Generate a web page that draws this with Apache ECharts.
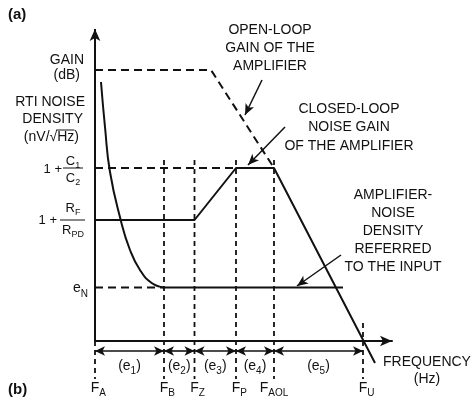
<!DOCTYPE html>
<html>
<head>
<meta charset="utf-8">
<script src="https://cdn.jsdelivr.net/npm/echarts@6/dist/echarts.min.js"></script>
<style>
  html, body { margin: 0; padding: 0; background: #fff; }
  #chart { width: 472px; height: 402px; }
</style>
</head>
<body>
<div id="chart"></div>
<script>
// break frequencies along the (log) frequency axis
const freqLabels = ['A', 'B', 'Z', 'P', 'AOL', 'U'];
const freqX = [0, 69, 99.5, 141, 179, 268];
// noise bands e1..e5 lie between consecutive break points
const bandLabels = ['1', '2', '3', '4', '5'];

// levels on the gain / noise axis
const levelEN = 53.5;
const levelRF = 121;
const levelC = 173;
const levelOL = 271;

// closed-loop noise gain
const closedLoopX = [0, 99.5, 141, 179, 280];
const closedLoopY = [121, 121, 173, 173, -22];
// open-loop gain (dashed)
const openLoopX = [0, 116, 179];
const openLoopY = [271, 271, 173];
// 1/f part of the input noise density, then flat floor
const noiseX = [6, 10, 15, 25.7, 35, 45, 56.7, 69];
const noiseY = [259, 214, 169, 121, 91, 71, 58, 53.5];
const noiseEndX = 248;

const INK = '#111';
const FONT = '"Liberation Sans", Arial, Helvetica, sans-serif';

const zip = (xs, ys) => xs.map((x, i) => [x, ys[i]]);

function lineSeries(data, opts) {
  return Object.assign({
    type: 'line',
    data: data,
    symbol: 'none',
    silent: true,
    clip: false,
    lineStyle: { color: INK, width: 2 }
  }, opts || {});
}

function dashed(data, dash, width) {
  return lineSeries(data, { lineStyle: { color: INK, width: width || 2, type: dash || [8, 5] } });
}

function arrowSeries(pairs, symbols, size, width) {
  return {
    type: 'line',
    data: [],
    silent: true,
    markLine: {
      silent: true,
      animation: false,
      symbol: symbols,
      symbolSize: size,
      label: { show: false },
      lineStyle: { color: INK, width: width, type: 'solid' },
      emphasis: { disabled: true },
      data: pairs.map(p => [{ coord: p[0] }, { coord: p[1] }])
    }
  };
}

const chart = echarts.init(document.getElementById('chart'), null, { renderer: 'canvas' });

// vertical guide lines at each break frequency
const last = freqX.length - 1;
const guides = freqX.map((x, i) => {
  const top = i === 0 ? 0 : (i === last ? 18 : levelC + 8);
  return dashed([[x, top], [x, -38]], [5, 4], 1.8);
});

// band arrows under the frequency axis
const bandArrows = bandLabels.map((b, i) => [[freqX[i], -10], [freqX[i + 1], -10]]);

// pointer arrows from the annotations
const pointers = [
  [[167, 261], [150, 226]],
  [[190, 214], [153, 176]],
  [[246, 86], [202, 55]]
];

chart.setOption({
  animation: false,
  grid: { left: 95, top: 29, width: 297, height: 372 },
  xAxis: {
    type: 'value', min: 0, max: 297,
    axisLine: { onZero: true, lineStyle: { color: INK, width: 2 }, symbol: ['none', 'arrow'], symbolSize: [8, 12] },
    axisTick: { show: false }, axisLabel: { show: false }, splitLine: { show: false }
  },
  yAxis: {
    type: 'value', min: -60, max: 312,
    axisLine: { show: false }, axisTick: { show: false }, axisLabel: { show: false }, splitLine: { show: false }
  },
  series: [
    lineSeries(zip(closedLoopX, closedLoopY)),
    dashed(zip(openLoopX, openLoopY)),
    lineSeries(zip(noiseX, noiseY), { smooth: 0.5 }),
    lineSeries([[freqX[1], levelEN], [noiseEndX, levelEN]]),
    dashed([[0, levelC], [freqX[3], levelC]]),
    dashed([[0, levelEN], [freqX[1], levelEN]]),
    ...guides,
    arrowSeries([[[0, 0], [0, 312]]], ['none', 'arrow'], [8, 12], 2),
    arrowSeries(bandArrows, ['arrow', 'arrow'], [7, 10], 1.6),
    arrowSeries(pointers, ['none', 'arrow'], [7, 11], 1.5)
  ]
});

// ---- text labels ----
const ctx = document.createElement('canvas').getContext('2d');
function textWidth(s, size, weight) {
  ctx.font = (weight || 'normal') + ' ' + size + 'px ' + FONT;
  return ctx.measureText(s).width;
}
function txt(s, x, y, size, align, weight) {
  return {
    type: 'text', x: x, y: y, silent: true,
    style: {
      text: s, fill: INK,
      font: (weight || 'normal') + ' ' + size + 'px ' + FONT,
      textAlign: align || 'center', textVerticalAlign: 'middle',
      align: align || 'center', verticalAlign: 'middle'
    }
  };
}
// text with subscripts, segs = [[text, isSub], ...]
function subTxt(segs, x, y, size, align) {
  const subSize = Math.round(size * 0.72);
  const ws = segs.map(s => textWidth(s[0], s[1] ? subSize : size));
  const total = ws.reduce((a, b) => a + b, 0);
  let cx = align === 'left' ? x : align === 'right' ? x - total : align === 'first' ? x - ws[0] / 2 : x - total / 2;
  return segs.map((s, i) => {
    const el = txt(s[0], cx, s[1] ? y + size * 0.38 : y, s[1] ? subSize : size, 'left');
    cx += ws[i];
    return el;
  });
}
function hline(x1, x2, y, w) {
  return { type: 'line', silent: true, shape: { x1: x1, y1: y, x2: x2, y2: y }, style: { stroke: INK, lineWidth: w || 1 } };
}

const px = (x, y) => chart.convertToPixel({ gridIndex: 0 }, [x, y]);
const g = [];

// frequency labels
freqX.forEach((x, i) => {
  const p = px(x, -47);
  g.push(...subTxt([['F'], [freqLabels[i], 1]], p[0], p[1], 14, freqLabels[i].length > 1 ? 'center' : 'first'));
});
// band labels
bandLabels.forEach((b, i) => {
  const p = px((freqX[i] + freqX[i + 1]) / 2, -25);
  g.push(...subTxt([['(e'], [b, 1], [')']], p[0], p[1], 14, 'center'));
});

// axis title
g.push(txt('GAIN', 84, 60, 14, 'right'));
g.push(txt('(dB)', 80, 75, 14, 'right'));
g.push(txt('RTI NOISE', 85, 102, 14, 'right'));
g.push(txt('DENSITY', 83, 119, 14, 'right'));
const unitR = 79;
g.push(txt('(nV/\u221AHz)', unitR, 137, 14, 'right'));
const wHz = textWidth('Hz)', 14);
g.push(hline(unitR - wHz - 1, unitR - textWidth(')', 14), 130, 1));

// level labels
const yC = px(0, levelC)[1];
const yRF = px(0, levelRF)[1];
const yEN = px(0, levelEN)[1];
g.push(txt('1 +', 62, yC + 1, 13, 'right'));
g.push(hline(63, 83, yC, 1));
g.push(...subTxt([['C'], ['1', 1]], 73, yC - 7, 13, 'center'));
g.push(...subTxt([['C'], ['2', 1]], 73, yC + 10, 13, 'center'));
g.push(txt('1 +', 57, yRF, 13, 'right'));
g.push(hline(60, 85, yRF, 1));
g.push(...subTxt([['R'], ['F', 1]], 73, yRF - 12, 13, 'center'));
g.push(...subTxt([['R'], ['PD', 1]], 73, yRF + 10, 13, 'center'));
g.push(...subTxt([['e'], ['N', 1]], 88, yEN + 1, 14, 'right'));

// annotations
['OPEN-LOOP', 'GAIN OF THE', 'AMPLIFIER'].forEach((s, i) => g.push(txt(s, 270, 30 + i * 18, 14)));
['CLOSED-LOOP', 'NOISE GAIN', 'OF THE AMPLIFIER'].forEach((s, i) => g.push(txt(s, 349, 109 + i * 18.5, 14)));
['AMPLIFIER-', 'NOISE', 'DENSITY', 'REFERRED', 'TO THE INPUT'].forEach((s, i) => g.push(txt(s, 393, 195 + i * 18, 14)));
g.push(txt('FREQUENCY', 427, 362, 14));
g.push(txt('(Hz)', 427, 379, 14));

g.push(txt('(a)', 8, 15, 15, 'left', 'bold'));
g.push(txt('(b)', 8, 390, 15, 'left', 'bold'));

chart.setOption({ graphic: { elements: g } });
</script>
</body>
</html>
